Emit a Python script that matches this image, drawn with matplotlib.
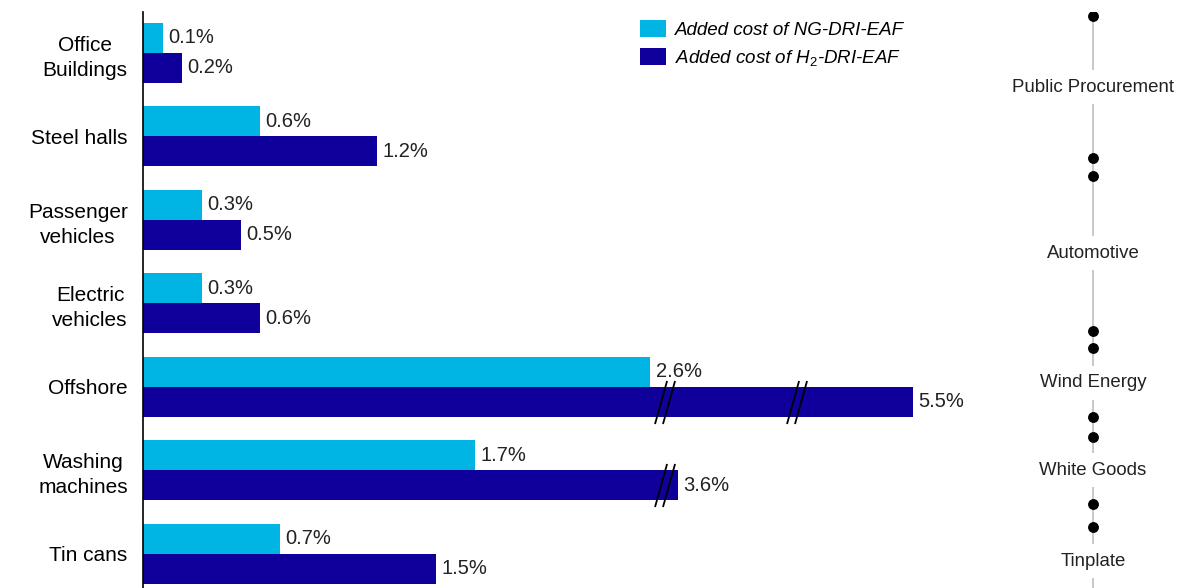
import matplotlib.pyplot as plt
import numpy as np
from matplotlib.path import Path

plt.rcParams['font.family'] = ['Liberation Sans', 'DejaVu Sans']
plt.rcParams['mathtext.fontset'] = 'custom'
plt.rcParams['mathtext.it'] = 'Liberation Sans:italic'
plt.rcParams['mathtext.rm'] = 'Liberation Sans'

# added product cost (%)
categories = ["Office\nBuildings", "Steel halls", "Passenger\nvehicles", "Electric\nvehicles",
              "Offshore", "Washing\nmachines", "Tin cans"]
ng_cost = [0.1, 0.6, 0.3, 0.3, 2.6, 1.7, 0.7]
h2_cost = [0.2, 1.2, 0.5, 0.6, 5.5, 3.6, 1.5]
series_names = ["Added cost of NG-DRI-EAF", r"Added cost of $\mathit{H_2}$-DRI-EAF"]

# sector groups on the right: label and span over the category rows
sectors = ["Public Procurement", "Automotive", "Wind Energy", "White Goods", "Tinplate"]
sector_start = [-0.44, 1.47, 3.54, 4.60, 5.68]
sector_end = [1.26, 3.33, 4.36, 5.40, 6.50]

# broken x axis: where each cut sits and how much it hides
BREAKS = [2.67, 3.35]
SKIPS = [0.856, 0.695]
cut_lo = []
acc = 0
for b, s in zip(BREAKS, SKIPS):
    cut_lo.append(b + acc)
    acc += s


def fwd(v):
    v = np.asarray(v, dtype=float)
    out = v.copy()
    for lo, s in zip(cut_lo, SKIPS):
        out = out - np.clip(v - lo, 0, s)
    return out


def inv(d):
    d = np.asarray(d, dtype=float)
    out = d.copy()
    for b, s in zip(BREAKS, SKIPS):
        out = out + np.where(d > b, s, 0)
    return out


CYAN = '#00B4E3'
NAVY = '#10009B'

fig = plt.figure(figsize=(11.86, 5.88), dpi=100)
ax = fig.add_axes([143 / 1186, 0, 857 / 1186, 576 / 588])
ax.set_xscale('function', functions=(fwd, inv))

y = np.arange(len(categories))
h = 0.36
ax.barh(y - h / 2, ng_cost, height=h, color=CYAN, label=series_names[0])
ax.barh(y + h / 2, h2_cost, height=h, color=NAVY, label=series_names[1])

for yy, v in zip(y - h / 2, ng_cost):
    ax.annotate(f"{v}%", (v, yy), xytext=(4, 0), textcoords='offset points',
                va='center', ha='left', fontsize=14.5, color='#222222')
for yy, v in zip(y + h / 2, h2_cost):
    ax.annotate(f"{v}%", (v, yy), xytext=(4, 0), textcoords='offset points',
                va='center', ha='left', fontsize=14.5, color='#222222')

# "//" marks where long bars pass a cut
slash = Path([(-0.44, -1), (0.12, 1), (-0.07, -1), (0.49, 1)],
             [Path.MOVETO, Path.LINETO, Path.MOVETO, Path.LINETO])
for vals, off in ((ng_cost, -h / 2), (h2_cost, h / 2)):
    for yy, v in zip(y, vals):
        for lo, s in zip(cut_lo, SKIPS):
            if v > lo + s:
                ax.plot([lo], [yy + off], marker=slash, ms=31, mfc='none',
                        mec='black', mew=1.3, zorder=5)

ax.set_xlim(0, inv(857 / 195))
ax.set_ylim(6.41, -0.49)
ax.set_yticks(y)
ax.set_yticklabels(categories, fontsize=15, multialignment='center', linespacing=1.4)
ax.tick_params(axis='y', length=0, pad=11)
ax.set_xticks([])
ax.xaxis.set_minor_locator(plt.NullLocator())
for side in ('top', 'right', 'bottom'):
    ax.spines[side].set_visible(False)
ax.spines['left'].set_linewidth(1.2)

fig.legend(loc='upper left', bbox_to_anchor=(640 / 1186, 1 - 20 / 588),
           frameon=False, prop={'style': 'italic', 'size': 13.5},
           handlelength=1.4, handleheight=1.0, handletextpad=0.45,
           labelspacing=0.5, borderpad=0, borderaxespad=0)

# sector timeline
ax2 = fig.add_axes([1000 / 1186, 0, 186 / 1186, 576 / 588], sharey=ax)
ax2.set_xlim(0, 1)
ax2.axis('off')
ax2.plot([0.5, 0.5], [sector_start[0], 7], color='#c4c4c4', lw=1.3, zorder=1)
ax2.plot([0.5] * len(sectors), sector_start, 'o', color='black', ms=6.8, zorder=3)
ax2.plot([0.5] * len(sectors), sector_end, 'o', color='black', ms=6.8, zorder=3)
for name, s, e in zip(sectors, sector_start, sector_end):
    ax2.text(0.5, (s + e) / 2, name, ha='center', va='center', fontsize=13.4,
             color='#222222', zorder=4,
             bbox=dict(boxstyle='square,pad=0.45', fc='white', ec='none'))

fig.savefig('out.png', dpi=100)
